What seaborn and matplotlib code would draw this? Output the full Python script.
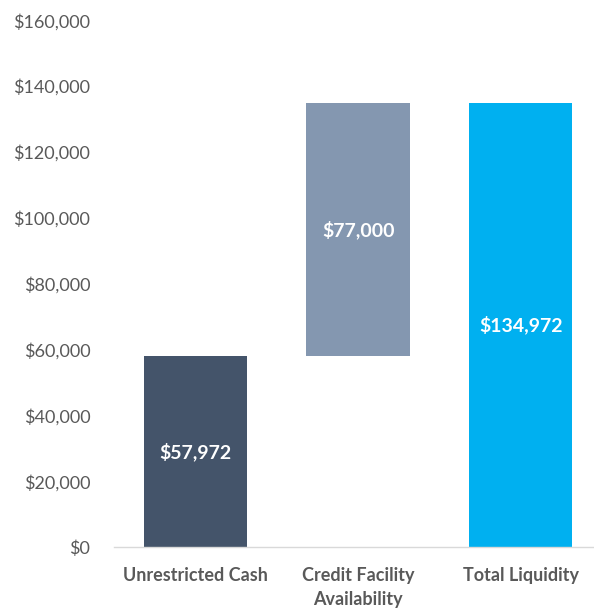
import numpy as np
import pandas as pd
import seaborn as sns
import matplotlib.pyplot as plt
from matplotlib.ticker import FuncFormatter

categories = ['Unrestricted Cash', 'Credit Facility\nAvailability', 'Total Liquidity']
heights = [57972, 77000, 134972]
bottoms = [0, 57972, 0]
labels = ['$57,972', '$77,000', '$134,972']
colors = ['#44546A', '#8497B0', '#00B0F0']

df = pd.DataFrame({'cat': categories, 'height': heights, 'bottom': bottoms})
df['top'] = df['bottom'] + df['height']

sns.set_style('white')
plt.rcParams['font.family'] = ['Lato', 'DejaVu Sans']

fig = plt.figure(figsize=(5.94, 6.12), dpi=100)
ax = fig.add_axes([0.192, 0.106, 0.808, 0.861])

# waterfall: full bar to the top, then blank out the floating part's base
sns.barplot(data=df, x='cat', y='top', hue='cat', palette=colors,
            width=0.635, legend=False, ax=ax, saturation=1, linewidth=0)
sns.barplot(data=df, x='cat', y='bottom', color='white',
            width=0.65, ax=ax, saturation=1, linewidth=0)

for i, (h, b, lab) in enumerate(zip(heights, bottoms, labels)):
    ax.text(i, b + h / 2, lab, ha='center', va='center', color='white',
            fontsize=14, fontweight='bold')

ax.set_ylim(0, 160000)
ax.set_xlim(-0.5, 2.45)
ax.set_yticks(range(0, 160001, 20000))
ax.yaxis.set_major_formatter(FuncFormatter(lambda v, p: '${:,.0f}'.format(v)))
ax.set_xlabel('')
ax.set_ylabel('')
sns.despine(ax=ax, left=True, right=True, top=True)
ax.spines['bottom'].set_color('#D9D9D9')
ax.spines['bottom'].set_linewidth(1)
ax.tick_params(axis='y', length=0, labelsize=13, labelcolor='#595959', pad=17)
ax.tick_params(axis='x', length=0, labelsize=13, labelcolor='#595959', pad=14)
for t in ax.get_xticklabels():
    t.set_fontweight('bold')
    t.set_linespacing(1.5)

fig.savefig('out.png', dpi=100)
